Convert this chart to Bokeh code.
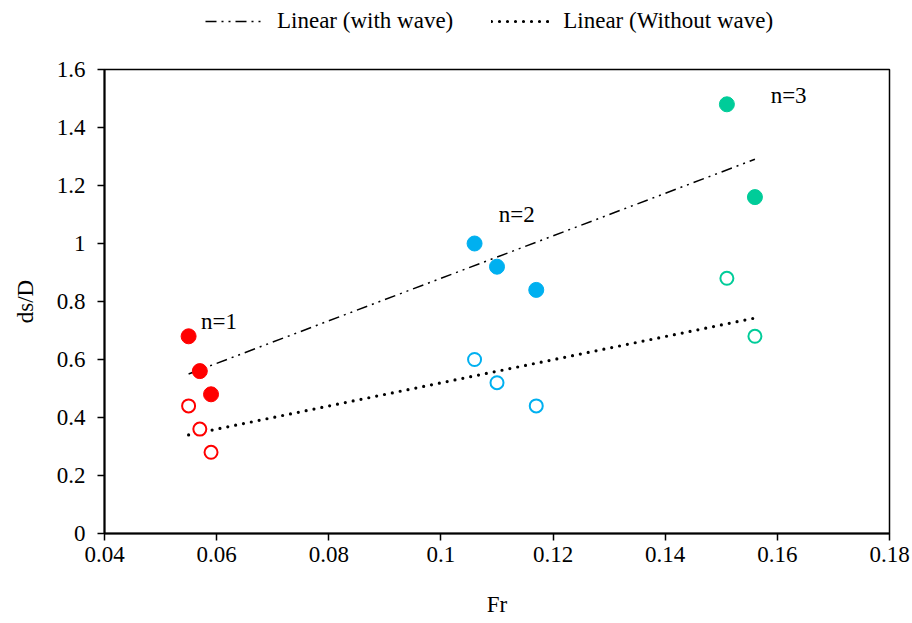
import numpy as np
from bokeh.plotting import figure
from bokeh.layouts import column
from bokeh.models import Legend, LegendItem, FixedTicker, Label, Range1d
from bokeh.embed import file_html
from bokeh.resources import INLINE

# ---- data ----
fr_n1 = [0.055, 0.057, 0.059]
fr_n2 = [0.106, 0.110, 0.117]
fr_n3 = [0.151, 0.156]
with_wave_n1 = [0.68, 0.56, 0.48]
with_wave_n2 = [1.00, 0.92, 0.84]
with_wave_n3 = [1.48, 1.16]
without_wave_n1 = [0.44, 0.36, 0.28]
without_wave_n2 = [0.60, 0.52, 0.44]
without_wave_n3 = [0.88, 0.68]

x_ticks = [0.04, 0.06, 0.08, 0.10, 0.12, 0.14, 0.16, 0.18]
x_tick_labels = ["0.04", "0.06", "0.08", "0.1", "0.12", "0.14", "0.16", "0.18"]
y_ticks = [0, 0.2, 0.4, 0.6, 0.8, 1.0, 1.2, 1.4, 1.6]
y_tick_labels = ["0", "0.2", "0.4", "0.6", "0.8", "1", "1.2", "1.4", "1.6"]

legend_labels = ["Linear (with wave)", "Linear (Without wave)"]
group_labels = ["n=1", "n=2", "n=3"]
group_label_x = [0.0572, 0.1103, 0.1588]
group_label_y = [0.73, 1.10, 1.51]

colors = ["#FF0000", "#00B0F0", "#00CC99"]
FONT = "'Liberation Serif', 'Times New Roman', serif"
FS = "23px"

WITH_STYLE = dict(line_color="black", line_width=1.5, line_dash="11 5 2 5 2 5")
WITHOUT_STYLE = dict(line_color="black", line_width=3.2, line_dash="0 8", line_cap="round")

p = figure(width=912, height=573, output_backend="svg", toolbar_location=None,
           x_range=Range1d(0.04, 0.18), y_range=Range1d(0, 1.6),
           min_border_left=104, min_border_right=23, min_border_top=19, min_border_bottom=90)
p.xgrid.visible = False
p.ygrid.visible = False
p.outline_line_color = "black"
p.outline_line_width = 1.5
p.background_fill_color = "white"
p.border_fill_color = "white"

# trendlines (least squares fits of the plotted points)
xs_all = np.array(fr_n1 + fr_n2 + fr_n3)
yw_all = np.array(with_wave_n1 + with_wave_n2 + with_wave_n3)
yo_all = np.array(without_wave_n1 + without_wave_n2 + without_wave_n3)
xline = np.array([xs_all.min(), xs_all.max()])
kw, bw = np.polyfit(xs_all, yw_all, 1)
ko, bo = np.polyfit(xs_all, yo_all, 1)

p.line(xline, kw * xline + bw, **WITH_STYLE)
p.line(xline, ko * xline + bo, **WITHOUT_STYLE)

groups = [(fr_n1, with_wave_n1, without_wave_n1),
          (fr_n2, with_wave_n2, without_wave_n2),
          (fr_n3, with_wave_n3, without_wave_n3)]
for (xs, yw, yo), c in zip(groups, colors):
    p.scatter(xs, yw, size=15, fill_color=c, line_color=c, line_width=1)
    p.scatter(xs, yo, size=13, fill_color="white", line_color=c, line_width=2)

for t, lx, ly in zip(group_labels, group_label_x, group_label_y):
    p.add_layout(Label(x=lx, y=ly, text=t, text_font=FONT, text_font_size=FS,
                       text_baseline="middle", text_align="left", text_color="black"))

for ax in (p.xaxis[0], p.yaxis[0]):
    ax.axis_line_color = "black"
    ax.axis_line_width = 2
    ax.major_tick_line_color = "black"
    ax.major_tick_line_width = 1.5
    ax.major_tick_in = 0
    ax.major_tick_out = 7
    ax.minor_tick_line_color = None
    ax.major_label_text_font = FONT
    ax.major_label_text_font_size = FS
    ax.major_label_text_color = "black"
    ax.axis_label_text_font = FONT
    ax.axis_label_text_font_size = FS
    ax.axis_label_text_font_style = "normal"
    ax.axis_label_text_color = "black"

p.xaxis.ticker = FixedTicker(ticks=x_ticks)
p.yaxis.ticker = FixedTicker(ticks=y_ticks)
p.xaxis.major_label_overrides = dict(zip(x_ticks, x_tick_labels))
p.yaxis.major_label_overrides = dict(zip(y_ticks, y_tick_labels))
p.xaxis.axis_label = "Fr"
p.yaxis.axis_label = "ds/D"
p.xaxis.major_label_standoff = 6
p.yaxis.major_label_standoff = 12
p.xaxis.axis_label_standoff = 27
p.yaxis.axis_label_standoff = 16

# legend strip above the chart
lg = figure(width=912, height=50, output_backend="svg", toolbar_location=None,
            x_range=Range1d(0, 1), y_range=Range1d(0, 1),
            x_axis_type=None, y_axis_type=None,
            min_border_left=0, min_border_right=0, min_border_top=0, min_border_bottom=0)
lg.xgrid.visible = False
lg.ygrid.visible = False
lg.outline_line_color = None
lg.border_fill_color = "white"
r_with = lg.line(x=[-2, -1], y=[-2, -1], **WITH_STYLE)
r_without = lg.line(x=[-2, -1], y=[-2, -1], **WITHOUT_STYLE)

legend = Legend(items=[LegendItem(label=legend_labels[0], renderers=[r_with]),
                       LegendItem(label=legend_labels[1], renderers=[r_without])],
                orientation="horizontal", location=(101, 16),
                padding=0, margin=0, spacing=38, label_standoff=14,
                glyph_width=58, glyph_height=24, label_height=24,
                border_line_color=None, background_fill_alpha=0,
                label_text_font=FONT, label_text_font_size=FS,
                label_text_color="black")
lg.add_layout(legend, "center")

layout = column(lg, p, spacing=0)
open("out.html", "w").write(file_html(layout, INLINE))
